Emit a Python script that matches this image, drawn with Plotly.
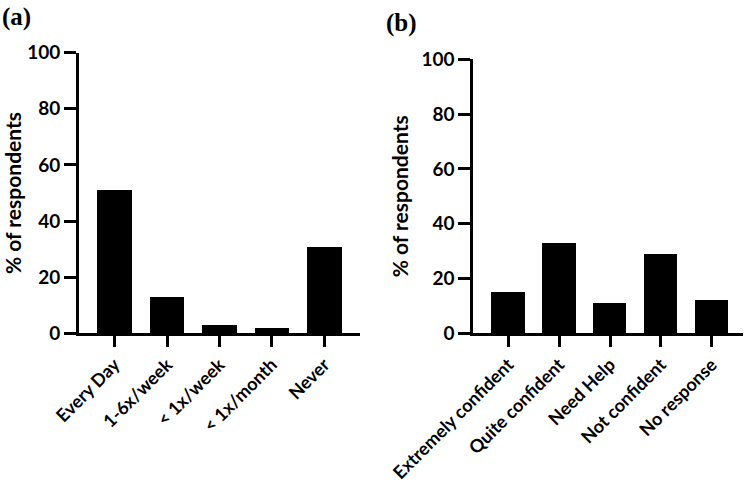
import plotly.graph_objects as go

freq_categories = ["Every Day", "1-6x/week", "< 1x/week", "< 1x/month", "Never"]
freq_values = [51, 13, 3, 2, 31]

conf_categories = ["Extremely confident", "Quite confident", "Need Help", "Not confident", "No response"]
conf_values = [15, 33, 11, 29, 12]

y_ticks = [0, 20, 40, 60, 80, 100]

FONT = "Lato"
W, H = 750, 487

fig = go.Figure()
fig.add_trace(go.Bar(x=list(range(len(freq_categories))), y=freq_values, width=0.655,
                     marker=dict(color="black", line=dict(width=0)), xaxis="x", yaxis="y"))
fig.add_trace(go.Bar(x=list(range(len(conf_categories))), y=conf_values, width=0.655,
                     marker=dict(color="black", line=dict(width=0)), xaxis="x2", yaxis="y2"))

xtickfont = dict(family=FONT, size=18, color="black", weight="bold")
ytickfont = dict(family=FONT, size=19, color="black", weight="bold")
common_x = dict(showline=True, linecolor="black", linewidth=2.7, ticks="outside",
                ticklen=11, tickwidth=2.5, tickcolor="black", tickangle=-45,
                tickfont=xtickfont, showgrid=False, zeroline=False, automargin=False)
common_y = dict(showline=True, linecolor="black", linewidth=2.7, ticks="outside",
                ticklen=12, tickwidth=2.5, tickcolor="black", range=[0, 100],
                tickvals=y_ticks, tickfont=ytickfont, showgrid=False, zeroline=False,
                automargin=False,
                title=dict(text="% of respondents", font=dict(family=FONT, size=21, color="black", weight="bold"),
                           standoff=8))

fig.update_layout(
    width=W, height=H, margin=dict(l=0, r=0, t=0, b=0),
    paper_bgcolor="white", plot_bgcolor="white", showlegend=False, bargap=0,
    xaxis=dict(domain=[79/W, 360/W], range=[-0.68, 4.68],
               tickvals=list(range(len(freq_categories))), ticktext=freq_categories,
               anchor="y", **common_x),
    yaxis=dict(domain=[(H-333.3)/H, (H-52.7)/H], anchor="x", **common_y),
    xaxis2=dict(domain=[473.3/W, 743.3/W], range=[-0.69, 4.62],
                tickvals=list(range(len(conf_categories))), ticktext=conf_categories,
                anchor="y2", **common_x),
    yaxis2=dict(domain=[(H-333.3)/H, (H-59.3)/H], anchor="x2", **common_y),
    annotations=[
        dict(text="<b>(a)</b>", x=0/W, y=1-1/H, xref="paper", yref="paper", xanchor="left", yanchor="top",
             showarrow=False, font=dict(family="Liberation Serif", size=25, color="black")),
        dict(text="<b>(b)</b>", x=384/W, y=1-7/H, xref="paper", yref="paper", xanchor="left", yanchor="top",
             showarrow=False, font=dict(family="Liberation Serif", size=25, color="black")),
    ],
)

fig.write_html("out.html", config={"displayModeBar": False},
               post_script="document.body.style.margin='0';")
